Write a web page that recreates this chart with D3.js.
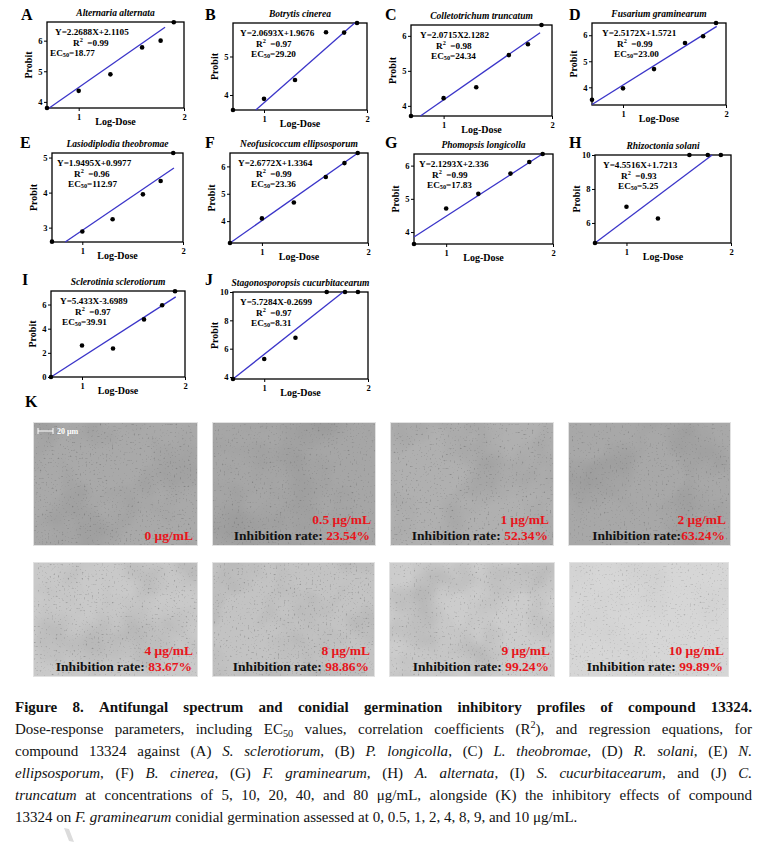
<!DOCTYPE html>
<html>
<head>
<meta charset="utf-8">
<script src="https://cdn.jsdelivr.net/npm/d3@7"></script>
<style>
  body { margin: 0; background: #fff; }
  svg { display: block; }
</style>
</head>
<body>
<div id="fig"></div>
<script>
// ---- data ----
const panelIds = ["A", "B", "C", "D", "E", "F", "G", "H", "I", "J"];
const species = [
  "Alternaria alternata", "Botrytis cinerea", "Colletotrichum truncatum",
  "Fusarium graminearum", "Lasiodiplodia theobromae", "Neofusicoccum ellipsosporum",
  "Phomopsis longicolla", "Rhizoctonia solani", "Sclerotinia sclerotiorum",
  "Stagonosporopsis cucurbitacearum"
];
const equations = [
  "Y=2.2688X+2.1105", "Y=2.0693X+1.9676", "Y=2.0715X2.1282", "Y=2.5172X+1.5721",
  "Y=1.9495X+0.9977", "Y=2.6772X+1.3364", "Y=2.1293X+2.336", "Y=4.5516X+1.7213",
  "Y=5.433X-3.6989", "Y=5.7284X-0.2699"
];
const rSquared = ["0.99", "0.97", "0.98", "0.99", "0.96", "0.99", "0.99", "0.93", "0.97", "0.97"];
const ec50 = ["18.77", "29.20", "24.34", "23.00", "112.97", "23.36", "17.83", "5.25", "39.91", "8.31"];

const logDose = [0.699, 1, 1.301, 1.602, 1.778, 1.903];
const xDomain = [0.699, 2];
const xTicks = [1, 2];
const probit = [
  [3.8, 4.36, 4.9, 5.78, 6.0, 6.6],
  [3.61, 3.9, 4.39, 5.63, 5.62, 5.87],
  [3.71, 4.22, 4.53, 5.45, 5.76, 6.31],
  [3.52, 3.96, 4.7, 5.7, 5.96, 6.47],
  [2.6, 2.89, 3.24, 3.95, 4.33, 5.13],
  [3.2, 4.1, 4.68, 5.61, 6.12, 6.49],
  [3.64, 4.71, 5.15, 5.76, 6.11, 6.35],
  [4.82, 6.95, 6.26, 10, 10, 10],
  [0, 2.61, 2.36, 4.77, 5.94, 7.1],
  [3.86, 5.27, 6.77, 10, 10, 10]
];
// drawn regression line: [x start, y start, x end, y end]
const fitLines = [
  [0.72, 3.8, 1.82, 6.44],
  [0.92, 3.61, 1.88, 5.87],
  [0.786, 3.71, 1.89, 6.09],
  [0.699, 3.34, 1.91, 6.34],
  [0.83, 2.59, 1.91, 4.70],
  [0.699, 3.2, 1.905, 6.49],
  [0.699, 3.85, 1.90, 6.35],
  [0.699, 4.82, 1.82, 10],
  [0.699, 0, 1.91, 6.63],
  [0.699, 3.86, 1.76, 10]
];
const yDomains = [
  [3.8, 6.61], [3.61, 5.87], [3.71, 6.31], [3.32, 6.47], [2.59, 5.13],
  [3.2, 6.49], [3.64, 6.35], [4.82, 10], [0, 7.12], [3.86, 10]
];
const yTicks = [
  [4, 5, 6], [4, 5], [4, 5, 6], [4, 5, 6], [3, 4, 5],
  [4, 5, 6], [4, 5, 6], [6, 8, 10], [0, 2, 4, 6], [4, 6, 8, 10]
];

const concentrations = ["0", "0.5", "1", "2", "4", "8", "9", "10"];
const inhibition = [null, "23.54%", "52.34%", "63.24%", "83.67%", "98.86%", "99.24%", "99.89%"];

const captionLines = [
  "Figure 8. Antifungal spectrum and conidial germination inhibitory profiles of compound 13324.",
  "Dose-response parameters, including EC_{50} values, correlation coefficients (R^{2}), and regression equations, for",
  "compound 13324 against (A) *S. sclerotiorum*, (B) *P. longicolla*, (C) *L. theobromae*, (D) *R. solani*, (E) *N.*",
  "*ellipsosporum*, (F) *B. cinerea,* (G) *F. graminearum*, (H) *A. alternata*, (I) *S. cucurbitacearum*, and (J) *C.*",
  "*truncatum* at concentrations of 5, 10, 20, 40, and 80 μg/mL, alongside (K) the inhibitory effects of compound",
  "13324 on *F. graminearum* conidial germination assessed at 0, 0.5, 1, 2, 4, 8, 9, and 10 μg/mL."
];

// ---- layout ----
const W = 768, H = 851;
const serif = "'Liberation Serif','Times New Roman',serif";
// plot frames [left, right, top, bottom]
const boxes = [
  [47, 184, 22, 108], [233, 367, 23, 110], [411, 552, 25, 116], [592, 726, 23, 105],
  [52, 183, 153, 242], [230, 368, 153, 243], [414, 553, 154, 244], [595, 731, 155, 243],
  [51, 185, 291, 377], [233, 368, 292, 379]
];
const letterPos = [[21, 20], [205, 20], [385, 20], [569, 20], [20, 148], [205, 148],
  [385, 148], [569, 148], [22, 285], [205, 285]];
const noteDx = [[8, 26, 3], [7, 23, 18], [9, 25, 20], [10, 25, 22], [5, 22, 16],
  [8, 26, 21], [5, 18, 13], [8, 26, 23], [9, 24, 11], [7, 23, 18]];
const imgBoxes = [
  [33, 198, 422, 546], [212, 376, 422, 546], [390, 554, 422, 546], [568, 731, 422, 546],
  [33, 198, 562, 677], [212, 375, 562, 677], [389, 555, 562, 677], [569, 729, 562, 677]
];
const imgTone = ["#a9a9a9", "#a6a6a6", "#b0b0b0", "#a8a8a8", "#c9c9c9", "#c3c3c3", "#cccccc", "#d6d6d6"];
const imgMottle = [0.55, 0.55, 0.45, 0.55, 0.3, 0.35, 0.35, 0.08];
const imgGrain = [0.55, 0.55, 0.55, 0.5, 0.5, 0.5, 0.45, 0.35];

const svg = d3.select("#fig").append("svg").attr("width", W).attr("height", H);
const defs = svg.append("defs");

// parse "*italic*", "_{sub}", "^{sup}" into words made of styled spans
function parseLine(str) {
  const words = [];
  let italic = false, cur = [], buf = "";
  const flush = (sh = 0) => { if (buf) cur.push({ t: buf, it: italic, sh: sh }); buf = ""; };
  for (let i = 0; i < str.length; i++) {
    const c = str[i];
    if (c === "*") { flush(); italic = !italic; }
    else if ((c === "_" || c === "^") && str[i + 1] === "{") {
      flush();
      const j = str.indexOf("}", i);
      buf = str.slice(i + 2, j);
      flush(c === "_" ? 1 : -1);
      i = j;
    } else if (c === " ") { flush(); if (cur.length) words.push(cur); cur = []; }
    else buf += c;
  }
  flush();
  if (cur.length) words.push(cur);
  return words;
}

function addSpans(text, spans, size) {
  let off = 0;
  spans.forEach(s => {
    const target = s.sh > 0 ? size * 0.18 : s.sh < 0 ? -size * 0.42 : 0;
    text.append("tspan")
      .attr("dy", target - off)
      .attr("font-size", s.sh ? size * 0.68 : size)
      .attr("font-style", s.it ? "italic" : null)
      .style("white-space", "pre")
      .text(s.t);
    off = target;
  });
}

// ---- dose-response panels ----
panelIds.forEach((id, i) => {
  const [x0, x1, y0, y1] = boxes[i];
  const x = d3.scaleLinear().domain(xDomain).range([x0, x1]);
  const y = d3.scaleLinear().domain(yDomains[i]).range([y1, y0]);
  const g = svg.append("g").attr("font-family", serif).attr("font-weight", "bold");

  g.append("text").attr("x", letterPos[i][0]).attr("y", letterPos[i][1])
    .attr("font-size", 16).text(id);

  g.append("text").attr("x", (x0 + x1) / 2).attr("y", y0 - 6)
    .attr("text-anchor", "middle").attr("font-size", 9.5).attr("font-style", "italic")
    .text(species[i]);

  const ax = g.append("g").attr("transform", `translate(0,${y1})`)
    .call(d3.axisBottom(x).tickValues(xTicks).tickSize(3).tickPadding(2.5).tickFormat(d3.format("d")));
  const ay = g.append("g").attr("transform", `translate(${x0},0)`)
    .call(d3.axisLeft(y).tickValues(yTicks[i]).tickSize(3).tickPadding(1.5).tickFormat(d3.format("d")));
  [ax, ay].forEach(a => {
    a.select(".domain").remove();
    a.attr("font-family", serif).attr("font-size", 8.5).attr("font-weight", "bold");
    a.selectAll("line").attr("stroke", "#000").attr("stroke-width", 1);
  });

  g.append("rect").attr("x", x0).attr("y", y0).attr("width", x1 - x0).attr("height", y1 - y0)
    .attr("fill", "none").attr("stroke", "#000").attr("stroke-width", 1.3);

  const f = fitLines[i];
  g.append("line")
    .attr("x1", x(f[0])).attr("y1", y(f[1])).attr("x2", x(f[2])).attr("y2", y(f[3]))
    .attr("stroke", "#3b35c9").attr("stroke-width", 1.3);

  g.selectAll("circle.pt").data(logDose.map((d, k) => [d, probit[i][k]])).join("circle")
    .attr("class", "pt").attr("cx", d => x(d[0])).attr("cy", d => y(d[1]))
    .attr("r", 2.3).attr("fill", "#000");

  g.append("text")
    .attr("transform", `translate(${x0 - 15},${(y0 + y1) / 2}) rotate(-90)`)
    .attr("text-anchor", "middle").attr("font-size", 10).text("Probit");
  g.append("text").attr("x", (x0 + x1) / 2).attr("y", y1 + 17)
    .attr("text-anchor", "middle").attr("font-size", 10).text("Log-Dose");

  const nd = noteDx[i], ns = 9.2;
  g.append("text").attr("x", x0 + nd[0]).attr("y", y0 + 12.5).attr("font-size", ns).text(equations[i]);
  addSpans(g.append("text").attr("x", x0 + nd[1]).attr("y", y0 + 23.5),
    [{ t: "R" }, { t: "2", sh: -1 }, { t: "  =" + rSquared[i] }], ns);
  addSpans(g.append("text").attr("x", x0 + nd[2]).attr("y", y0 + 33.5),
    parseLine("EC_{50}=" + ec50[i])[0], ns);
});

// ---- panel K: micrographs ----
svg.append("text").attr("x", 25).attr("y", 407).attr("font-family", serif)
  .attr("font-weight", "bold").attr("font-size", 16).text("K");

concentrations.forEach((c, i) => {
  const [x0, x1, y0, y1] = imgBoxes[i];
  const fm = defs.append("filter").attr("id", "mottle" + i)
    .attr("x", 0).attr("y", 0).attr("width", 1).attr("height", 1);
  fm.append("feTurbulence").attr("type", "fractalNoise").attr("baseFrequency", 0.018)
    .attr("numOctaves", 3).attr("seed", i + 2);
  fm.append("feColorMatrix").attr("type", "matrix")
    .attr("values", "0 0 0 0 0.3  0 0 0 0 0.3  0 0 0 0 0.3  2.6 0 0 0 -1.15");
  const fg = defs.append("filter").attr("id", "grain" + i)
    .attr("x", 0).attr("y", 0).attr("width", 1).attr("height", 1);
  fg.append("feTurbulence").attr("type", "fractalNoise").attr("baseFrequency", 0.5)
    .attr("numOctaves", 2).attr("seed", i + 11);
  fg.append("feColorMatrix").attr("type", "matrix")
    .attr("values", "0 0 0 0 0.15  0 0 0 0 0.15  0 0 0 0 0.15  5 0 0 0 -3.2");

  const g = svg.append("g");
  g.append("rect").attr("x", x0).attr("y", y0).attr("width", x1 - x0).attr("height", y1 - y0)
    .attr("fill", imgTone[i]);
  g.append("rect").attr("x", x0).attr("y", y0).attr("width", x1 - x0).attr("height", y1 - y0)
    .attr("filter", `url(#mottle${i})`).attr("opacity", imgMottle[i]);
  g.append("rect").attr("x", x0).attr("y", y0).attr("width", x1 - x0).attr("height", y1 - y0)
    .attr("filter", `url(#grain${i})`).attr("opacity", imgGrain[i]);
  g.append("rect").attr("x", x0 + 0.5).attr("y", y0 + 0.5).attr("width", x1 - x0 - 1).attr("height", y1 - y0 - 1)
    .attr("fill", "none").attr("stroke", "#e2e2e2").attr("stroke-width", 1);

  const lab = g.append("g").attr("font-family", serif).attr("font-weight", "bold")
    .attr("font-size", 13.5).attr("text-anchor", "end");
  if (inhibition[i] === null) {
    lab.append("text").attr("x", x1 - 5).attr("y", y1 - 6).attr("fill", "#e8141b").text(c + " μg/mL");
  } else {
    lab.append("text").attr("x", x1 - 5).attr("y", y1 - 22).attr("fill", "#e8141b").text(c + " μg/mL");
    const t = lab.append("text").attr("x", x1 - 6).attr("y", y1 - 6).attr("fill", "#111");
    t.append("tspan").text(i === 3 ? "Inhibition rate:" : "Inhibition rate: ");
    t.append("tspan").attr("fill", "#e8141b").text(inhibition[i]);
  }
});

// scale bar on the first micrograph
const sb = svg.append("g").attr("stroke", "#fff").attr("stroke-width", 1);
sb.append("line").attr("x1", 38).attr("x2", 53).attr("y1", 431).attr("y2", 431);
sb.append("line").attr("x1", 38).attr("x2", 38).attr("y1", 428).attr("y2", 434);
sb.append("line").attr("x1", 53).attr("x2", 53).attr("y1", 428).attr("y2", 434);
svg.append("text").attr("x", 57).attr("y", 434).attr("fill", "#fff").attr("font-family", serif)
  .attr("font-weight", "bold").attr("font-size", 8).text("20 μm");

// ---- caption, justified ----
const capLeft = 15, capRight = 752, capTop = 712, capStep = 22, capSize = 15;
captionLines.forEach((line, li) => {
  const words = parseLine(line);
  const g = svg.append("g").attr("font-family", serif).attr("font-size", capSize)
    .attr("font-weight", li === 0 ? "bold" : null).attr("fill", "#111");
  const texts = words.map(w => {
    const t = g.append("text").attr("y", capTop + li * capStep);
    addSpans(t, w, capSize);
    return t;
  });
  const widths = texts.map(t => t.node().getComputedTextLength());
  const total = d3.sum(widths);
  const last = li === captionLines.length - 1;
  const gap = last ? capSize * 0.25 : (capRight - capLeft - total) / (words.length - 1);
  let cx = capLeft;
  texts.forEach((t, k) => { t.attr("x", cx); cx += widths[k] + gap; });
});

// faint page mark at bottom left
svg.append("polygon").attr("points", "64,828 69,829 74,842 69,841").attr("fill", "#dcdcdc");
</script>
</body>
</html>
